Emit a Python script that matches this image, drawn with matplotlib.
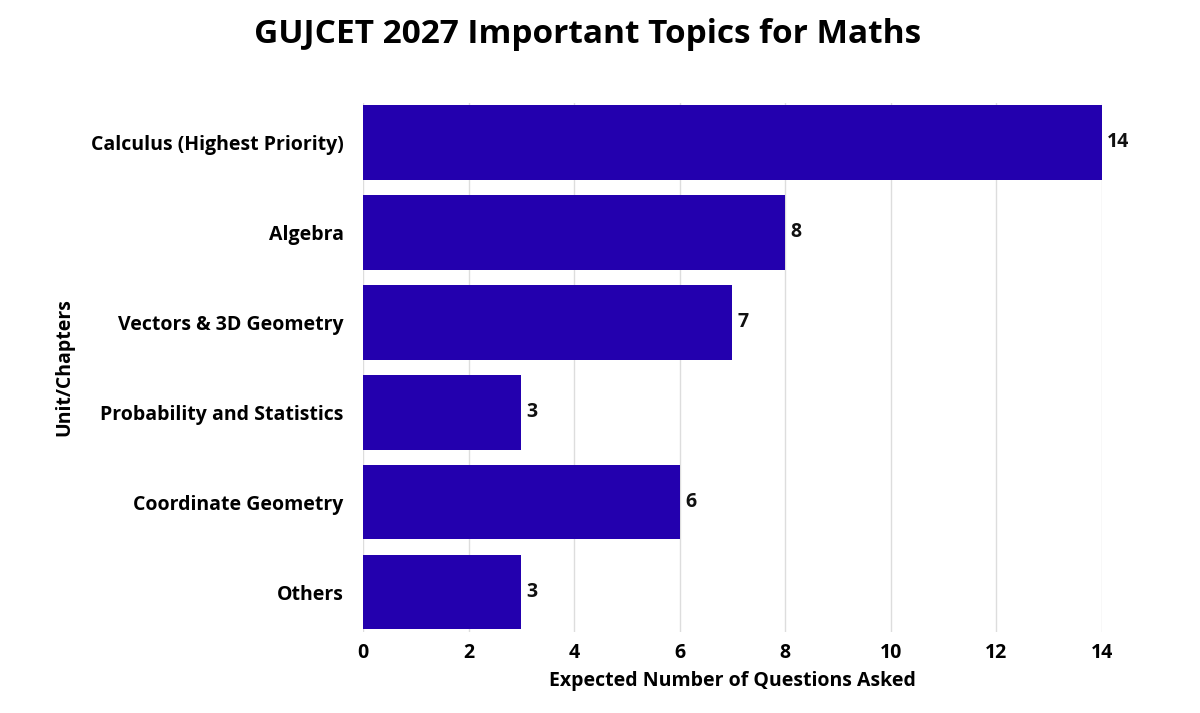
import matplotlib.pyplot as plt

topics = ['Calculus (Highest Priority)', 'Algebra', 'Vectors & 3D Geometry',
          'Probability and Statistics', 'Coordinate Geometry', 'Others']
questions = [14, 8, 7, 3, 6, 3]

plt.rcParams['font.family'] = ['Open Sans', 'DejaVu Sans']

fig = plt.figure(figsize=(12, 7.13), dpi=100)
ax = fig.add_axes([0.3025, 0.114, 0.6158, 0.742])

y = list(range(len(topics)))
bars = ax.barh(y, questions, height=0.83, color='#2300AE', zorder=3)
for b, v in zip(bars, questions):
    ax.text(v + 0.1, b.get_y() + b.get_height() / 2, str(v), va='center',
            ha='left', fontsize=14, fontweight='bold', color='#111111')

ax.set_yticks(y)
ax.set_yticklabels(topics, fontsize=14, fontweight='bold')
ax.set_ylim(len(topics) - 0.56, -0.44)
ax.set_xlim(0, 14)
ax.set_xticks(range(0, 15, 2))
ax.tick_params(axis='x', labelsize=14, length=0, pad=8)
ax.tick_params(axis='y', length=0, pad=14)
for lab in ax.get_xticklabels():
    lab.set_fontweight('bold')
ax.grid(axis='x', color='#dddddd', linewidth=1, zorder=0)
for s in ax.spines.values():
    s.set_visible(False)

ax.set_xlabel('Expected Number of Questions Asked', fontsize=14, fontweight='bold', labelpad=6)
ax.set_ylabel('Unit/Chapters', fontsize=14, fontweight='bold', labelpad=12)
fig.suptitle('GUJCET 2027 Important Topics for Maths', fontsize=24, fontweight='bold',
             x=0.49, y=0.975)

fig.savefig('out.png')
